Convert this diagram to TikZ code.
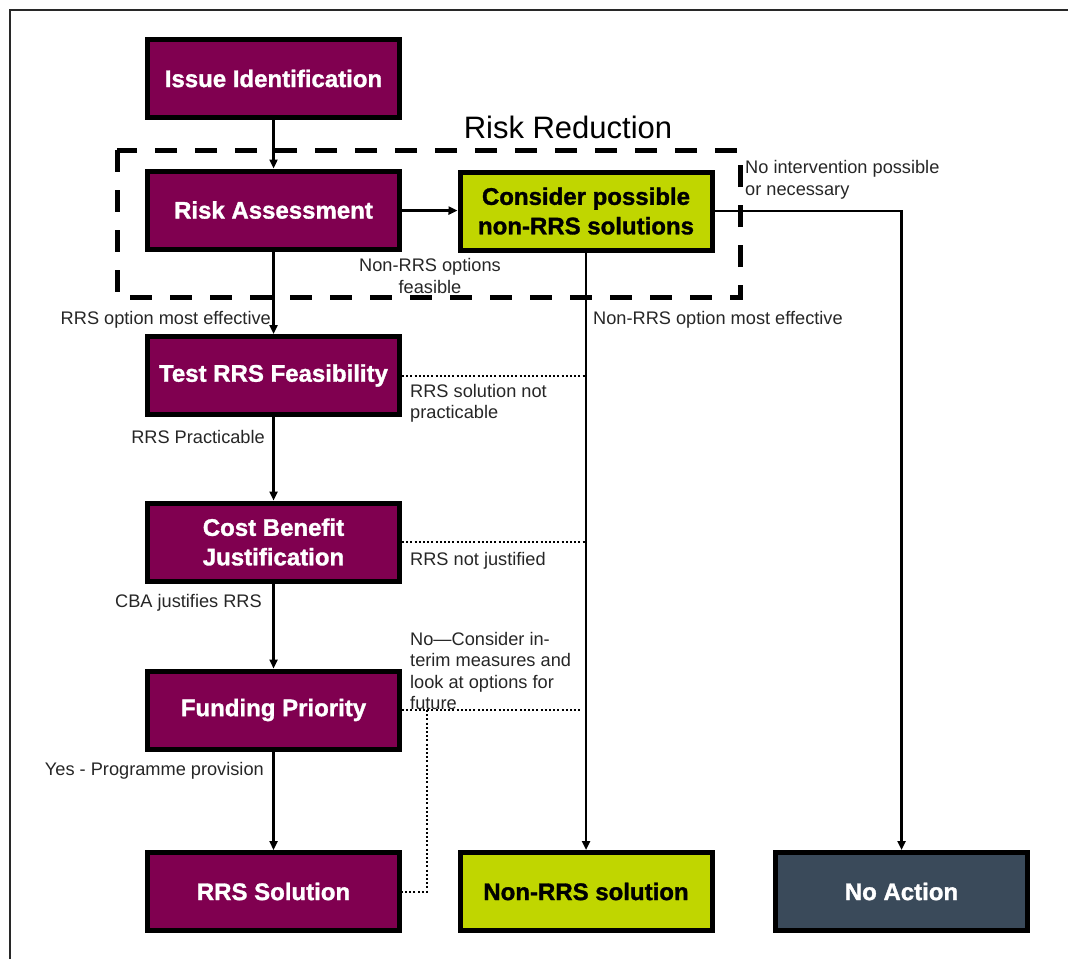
\documentclass[tikz,border=0pt]{standalone}
\usepackage{fontspec}
\setmainfont{Liberation Sans}
\newfontface\boxfont[FakeBold=1.3]{Liberation Sans Bold}
\usetikzlibrary{arrows.meta}
\definecolor{maroon}{RGB}{128,0,80}
\definecolor{lime}{RGB}{192,214,0}
\definecolor{slate}{RGB}{58,74,90}
\definecolor{framegray}{RGB}{40,40,40}

\begin{document}
\begin{tikzpicture}[x=1pt,y=-1pt,
  box/.style={draw=black, line width=5pt, minimum width=252pt, minimum height=78pt,
    align=center, inner sep=0pt, font=\boxfont\fontsize{24}{29.5}\selectfont},
  rrsbox/.style={box, fill=maroon, text=white},
  altbox/.style={box, fill=lime, text=black},
  endbox/.style={box, fill=slate, text=white},
  flow/.style={line width=2.8pt, -{Triangle[length=9pt,width=8pt]}},
  weak/.style={line width=2pt, dash pattern=on 2pt off 2.2pt},
  lbl/.style={font=\fontsize{18.2}{21.5}\selectfont, inner sep=0pt, text=black!85, align=left}
]
\useasboundingbox (0,0) rectangle (1068,959);

% outer frame
\draw[framegray, line width=2pt] (10,959) -- (10,10) -- (1068,10);

% risk reduction zone
\draw[line width=5pt, dash pattern=on 22pt off 18pt] (117,150) rectangle (740,297);
\node[font=\fontsize{31}{34}\selectfont, inner sep=0pt] (rrtitle) at (568,127) {Risk Reduction};

% process boxes
\node[rrsbox] (iss)  at (273.5,78.5)  {Issue Identification};
\node[rrsbox] (ra)   at (273.5,210)   {Risk Assessment};
\node[altbox] (cons) at (586,211)     {Consider possible\\non-RRS solutions};
\node[rrsbox] (test) at (273.5,375.5) {Test RRS Feasibility};
\node[rrsbox] (cba)  at (273.5,542)   {Cost Benefit\\Justification};
\node[rrsbox] (fund) at (273.5,710)   {Funding Priority};
\node[rrsbox] (rrs)  at (273.5,891.5) {RRS Solution};
\node[altbox] (non)  at (586,891.5)   {Non-RRS solution};
\node[endbox] (noact) at (901.5,891.5) {No Action};

% main flow
\draw[flow] (iss) -- (ra);
\draw[flow] (ra) -- (cons);
\draw[flow] (ra) -- (test);
\draw[flow] (test) -- (cba);
\draw[flow] (cba) -- (fund);
\draw[flow] (fund) -- (rrs);
\draw[flow] (cons) -- (non);
\draw[flow] (cons.east) -| (noact.north);

% fall-back routes
\draw[weak] (test.east) -- (test.east -| cons.south);
\draw[weak] (cba.east) -- (cba.east -| cons.south);
\coordinate (fe) at (580,710);
\coordinate (fk) at (427,710);
\draw[weak] (fund.east) -- (fe);
\draw[weak] (fk) |- (rrs.east);

% labels
\node[lbl, anchor=east] (l1) at (271,320) {RRS option most effective};
\node[lbl, anchor=east] (l2) at (265,437) {RRS Practicable};
\node[lbl, anchor=east] (l3) at (262,603) {CBA justifies RRS};
\node[lbl, anchor=east] (l4) at (264,771) {Yes - Programme provision};
\node[lbl, align=center] (l5) at (430,276) {Non-RRS options\\feasible};
\node[lbl, anchor=west] (l6) at (593,320) {Non-RRS option most effective};
\node[lbl, anchor=west] (l7) at (745,180) {No intervention possible\\or necessary};
\node[lbl, anchor=west] (l8) at (410,403.5) {RRS solution not\\practicable};
\node[lbl, anchor=west] (l9) at (410,561) {RRS not justified};
\node[lbl, anchor=west] (l10) at (410,671) {No---Consider in-\\terim measures and\\look at options for\\future};
\end{tikzpicture}
\end{document}
